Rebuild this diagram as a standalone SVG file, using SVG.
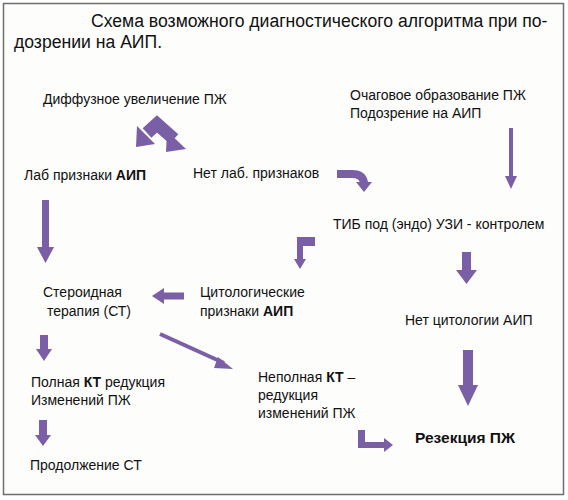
<svg xmlns="http://www.w3.org/2000/svg" width="568" height="500" viewBox="0 0 568 500">
<style>
.t{font-family:"Liberation Sans",Arial,sans-serif;font-size:14px;fill:#111}
.ttl{font-family:"Liberation Sans",Arial,sans-serif;font-size:17.6px;fill:#111}
.b{font-weight:bold}
.a{fill:#7a5fa6;stroke:none}
.s{fill:none;stroke:#7a5fa6}
</style>
<rect x="0" y="0" width="568" height="500" fill="#ffffff"/>
<rect x="3.5" y="3.5" width="560" height="491" fill="#fdfdfb" stroke="#6e6e6e" stroke-width="1.5"/>
<g id="title">
<text class="ttl" x="91" y="27">Схема возможного диагностического алгоритма при по-</text>
<text class="ttl" x="14" y="48">дозрении на АИП.</text>
</g>
<g id="n-diffuse"><text class="t" x="43" y="104">Диффузное увеличение ПЖ</text></g>
<g id="n-focal"><text class="t" x="350" y="100">Очаговое образование ПЖ</text><text class="t" x="350" y="118">Подозрение на АИП</text></g>
<g id="n-lab"><text class="t" x="24" y="180">Лаб признаки <tspan class="b">АИП</tspan></text></g>
<g id="n-nolab"><text class="t" x="193" y="178">Нет лаб. признаков</text></g>
<g id="n-tib"><text class="t" x="333" y="229">ТИБ под (эндо) УЗИ - контролем</text></g>
<g id="n-steroid"><text class="t" x="43" y="297">Стероидная</text><text class="t" x="47" y="316">терапия (СТ)</text></g>
<g id="n-cyto"><text class="t" x="200" y="297">Цитологические</text><text class="t" x="200" y="316">признаки <tspan class="b">АИП</tspan></text></g>
<g id="n-nocyto"><text class="t" x="405" y="325">Нет цитологии АИП</text></g>
<g id="n-full"><text class="t" x="31" y="387">Полная <tspan class="b">КТ</tspan> редукция</text><text class="t" x="31" y="405">Изменений ПЖ</text></g>
<g id="n-partial"><text class="t" x="258" y="382">Неполная <tspan class="b">КТ</tspan> –</text><text class="t" x="258" y="400">редукция</text><text class="t" x="258" y="418">изменений ПЖ</text></g>
<g id="n-resect"><text class="t b" x="415" y="443" style="font-size:15.5px">Резекция ПЖ</text></g>
<g id="n-cont"><text class="t" x="30" y="470">Продолжение СТ</text></g>
<g id="connectors">
<!-- double bent arrow -->
<path class="s" d="M147,133 L157,124 L174,139" stroke-width="13" stroke-linejoin="miter"/>
<polygon class="a" points="137,126 155,144 136,147"/>
<polygon class="a" points="167,131 186,149 166,152"/>
<!-- right thin down -->
<rect class="a" x="509" y="128" width="4" height="50"/>
<polygon class="a" points="505,176 517,176 511,189"/>
<!-- curved -->
<path class="s" d="M337,174 L352,174 Q363,174 364,183" stroke-width="8"/>
<polygon class="a" points="356,182 372,182 364,192"/>
<!-- lab down -->
<rect class="a" x="42" y="200" width="7" height="48"/>
<polygon class="a" points="37,247 54,247 45.5,263"/>
<!-- bent tib -> cyto -->
<polygon class="a" points="297,237 315,237 315,246 303,246 303,260 297,260"/>
<polygon class="a" points="294,259 306,259 300,269"/>
<!-- thick down to nocyto -->
<rect class="a" x="462" y="252" width="9" height="19"/>
<polygon class="a" points="456,270 477,270 466.5,284"/>
<!-- left arrow -->
<rect class="a" x="163" y="292.5" width="21" height="7"/>
<polygon class="a" points="164,288 164,304 152,296"/>
<!-- diagonal -->
<line class="s" x1="160" y1="334" x2="224" y2="363" stroke-width="4"/>
<polygon class="a" points="218,357 233,369 214,368"/>
<!-- small down 1 -->
<rect class="a" x="40" y="335" width="8" height="15"/>
<polygon class="a" points="36,349 52,349 44,361"/>
<!-- big right down -->
<rect class="a" x="463" y="350" width="10" height="36"/>
<polygon class="a" points="458,385 478,385 468,406"/>
<!-- small down 2 -->
<rect class="a" x="39" y="420" width="8" height="16"/>
<polygon class="a" points="35,435 51,435 43,446"/>
<!-- L arrow -->
<polygon class="a" points="358,430 365,430 365,442 385,442 385,448 358,448"/>
<polygon class="a" points="384,438 384,452 393,445"/>
</g>
</svg>
